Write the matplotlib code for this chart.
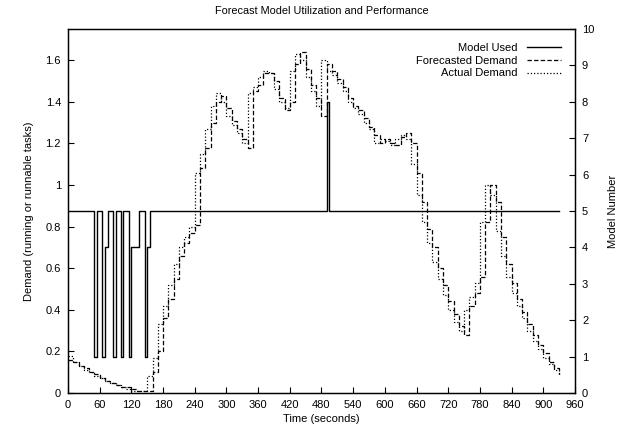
import numpy as np
import matplotlib
matplotlib.use("Agg")
import matplotlib.pyplot as plt
from matplotlib.ticker import FuncFormatter

# ── Data ──────────────────────────────────────────────────────────────────────
times = np.arange(0, 931, 10)

actual_demand = [
    0.18, 0.15, 0.13, 0.11, 0.10, 0.08, 0.07, 0.06, 0.05, 0.04,
    0.03, 0.02, 0.01, 0.01, 0.01, 0.08, 0.17, 0.33, 0.42, 0.52,
    0.62, 0.70, 0.75, 0.80, 1.06, 1.15, 1.27, 1.38, 1.44, 1.40,
    1.33, 1.29, 1.25, 1.20, 1.44, 1.47, 1.52, 1.55, 1.54, 1.46,
    1.40, 1.37, 1.55, 1.63, 1.60, 1.52, 1.45, 1.38, 1.60, 1.55,
    1.53, 1.49, 1.45, 1.40, 1.37, 1.34, 1.30, 1.27, 1.20, 1.22,
    1.21, 1.19, 1.22, 1.24, 1.22, 1.10, 0.95, 0.82, 0.72, 0.63,
    0.55, 0.47, 0.40, 0.34, 0.30, 0.40, 0.46, 0.53, 0.82, 1.00,
    0.95, 0.78, 0.66, 0.56, 0.48, 0.42, 0.36, 0.30, 0.25, 0.21,
    0.17, 0.14, 0.11, 0.08,
]

forecast_demand = [
    0.16, 0.15, 0.13, 0.12, 0.10, 0.09, 0.07, 0.06, 0.05, 0.04,
    0.03, 0.03, 0.02, 0.01, 0.01, 0.01, 0.10, 0.20, 0.36, 0.45,
    0.55, 0.66, 0.72, 0.77, 0.81, 1.08, 1.18, 1.30, 1.40, 1.43,
    1.37, 1.31, 1.27, 1.22, 1.18, 1.45, 1.48, 1.54, 1.54, 1.50,
    1.42, 1.36, 1.40, 1.58, 1.64, 1.56, 1.48, 1.42, 1.33, 1.58,
    1.55, 1.51, 1.47, 1.42, 1.38, 1.36, 1.32, 1.28, 1.24, 1.20,
    1.22, 1.20, 1.19, 1.23, 1.25, 1.20, 1.06, 0.92, 0.79, 0.70,
    0.60, 0.52, 0.44, 0.38, 0.32, 0.28, 0.42, 0.48, 0.56, 0.82,
    1.00, 0.92, 0.75, 0.62, 0.53, 0.45, 0.39, 0.33, 0.28, 0.23,
    0.19, 0.15, 0.12, 0.09,
]

# model number switches: time of change -> model in use
model_times = [0, 50, 55, 65, 70, 75, 85, 90, 100, 105, 115, 120, 135,
               145, 150, 155, 490, 495, 930]
model_used = [5, 1, 5, 1, 4, 5, 1, 5, 1, 5, 1, 4, 5, 1, 4, 5, 8, 5, 5]

x_ticks = np.arange(0, 961, 60)
y_ticks = np.arange(0, 1.61, 0.2)
y2_ticks = np.arange(0, 11, 1)

# ── Figure ────────────────────────────────────────────────────────────────────
plt.rcParams['font.family'] = ['Liberation Sans', 'DejaVu Sans']
plt.rcParams['font.size'] = 8

fig = plt.figure(figsize=(6.32, 4.34), dpi=100)
ax = fig.add_axes([0.1076, 0.0945, 0.8022, 0.8387])
ax2 = ax.twinx()

l_fc, = ax.plot(times, forecast_demand, color='black', lw=0.9,
                drawstyle='steps-post', dashes=(3.5, 1.8))
l_ac, = ax.plot(times, actual_demand, color='black', lw=0.9,
                drawstyle='steps-post', dashes=(1.0, 1.6))
l_mod, = ax2.plot(model_times, model_used, color='black', lw=1.0,
                  drawstyle='steps-post')

ax.set_xlim(0, 960)
ax.set_ylim(0, 1.75)
ax2.set_ylim(0, 10)

ax.set_xticks(x_ticks)
ax.set_yticks(y_ticks)
ax2.set_yticks(y2_ticks)
ax.yaxis.set_major_formatter(FuncFormatter(lambda v, p: '%g' % round(v, 2)))

ax.tick_params(direction='in', length=4, width=0.8, top=False, right=False, pad=5)
ax2.tick_params(direction='in', length=4, width=0.8, pad=5)

for a in (ax, ax2):
    for s in a.spines.values():
        s.set_linewidth(0.9)

ax.set_xlabel('Time (seconds)', labelpad=3)
ax.set_ylabel('Demand (running or runnable tasks)', labelpad=8)
ax2.set_ylabel('Model Number', labelpad=10)
ax.set_title('Forecast Model Utilization and Performance', pad=11, fontsize=7.8)

ax2.legend([l_mod, l_fc, l_ac], ['Model Used', 'Forecasted Demand', 'Actual Demand'],
           loc='upper right', frameon=False, markerfirst=False,
           handlelength=3.1, handletextpad=0.8, labelspacing=0.25,
           borderaxespad=0.85, fontsize=8)

fig.savefig('out.png', dpi=100)
